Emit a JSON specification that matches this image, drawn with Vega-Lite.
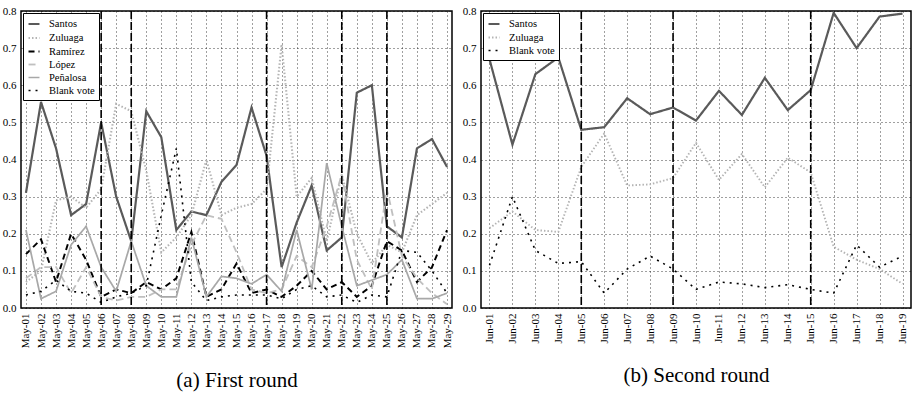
{
  "$schema": "https://vega.github.io/schema/vega-lite/v6.json",
  "background": "white",
  "padding": {"left": 1, "top": 4, "right": 0, "bottom": 0},
  "config": {
    "font": "Liberation Serif",
    "view": {"stroke": "#000", "strokeWidth": 1.5},
    "axis": {
      "labelFont": "Liberation Serif",
      "labelFontSize": 11,
      "labelColor": "#000",
      "domain": false,
      "ticks": false,
      "labelPadding": 5,
      "gridColor": "#000",
      "gridDash": [1, 3],
      "gridOpacity": 0.75,
      "gridWidth": 1,
      "titleFont": "Liberation Serif",
      "titleFontSize": 21,
      "titleFontWeight": "normal",
      "titleColor": "#000"
    },
    "legend": {
      "labelFont": "Liberation Serif",
      "labelFontSize": 10.5,
      "labelColor": "#000",
      "orient": "top-left",
      "offset": 2,
      "fillColor": "white",
      "strokeColor": "#000",
      "padding": 4,
      "symbolType": "stroke",
      "symbolSize": 120,
      "rowPadding": 1,
      "labelOffset": 8,
      "title": null
    }
  },
  "datasets": {
    "first": [
      {"date": "May-01", "candidate": "Santos", "share": 0.31},
      {"date": "May-02", "candidate": "Santos", "share": 0.555},
      {"date": "May-03", "candidate": "Santos", "share": 0.43},
      {"date": "May-04", "candidate": "Santos", "share": 0.25},
      {"date": "May-05", "candidate": "Santos", "share": 0.28},
      {"date": "May-06", "candidate": "Santos", "share": 0.50},
      {"date": "May-07", "candidate": "Santos", "share": 0.30},
      {"date": "May-08", "candidate": "Santos", "share": 0.18},
      {"date": "May-09", "candidate": "Santos", "share": 0.53},
      {"date": "May-10", "candidate": "Santos", "share": 0.46},
      {"date": "May-11", "candidate": "Santos", "share": 0.21},
      {"date": "May-12", "candidate": "Santos", "share": 0.26},
      {"date": "May-13", "candidate": "Santos", "share": 0.25},
      {"date": "May-14", "candidate": "Santos", "share": 0.34},
      {"date": "May-15", "candidate": "Santos", "share": 0.385},
      {"date": "May-16", "candidate": "Santos", "share": 0.54},
      {"date": "May-17", "candidate": "Santos", "share": 0.41},
      {"date": "May-18", "candidate": "Santos", "share": 0.11},
      {"date": "May-19", "candidate": "Santos", "share": 0.23},
      {"date": "May-20", "candidate": "Santos", "share": 0.33},
      {"date": "May-21", "candidate": "Santos", "share": 0.155},
      {"date": "May-22", "candidate": "Santos", "share": 0.19},
      {"date": "May-23", "candidate": "Santos", "share": 0.58},
      {"date": "May-24", "candidate": "Santos", "share": 0.60},
      {"date": "May-25", "candidate": "Santos", "share": 0.22},
      {"date": "May-26", "candidate": "Santos", "share": 0.19},
      {"date": "May-27", "candidate": "Santos", "share": 0.43},
      {"date": "May-28", "candidate": "Santos", "share": 0.455},
      {"date": "May-29", "candidate": "Santos", "share": 0.38},
      {"date": "May-01", "candidate": "Zuluaga", "share": 0.07},
      {"date": "May-02", "candidate": "Zuluaga", "share": 0.10},
      {"date": "May-03", "candidate": "Zuluaga", "share": 0.29},
      {"date": "May-04", "candidate": "Zuluaga", "share": 0.30},
      {"date": "May-05", "candidate": "Zuluaga", "share": 0.27},
      {"date": "May-06", "candidate": "Zuluaga", "share": 0.32},
      {"date": "May-07", "candidate": "Zuluaga", "share": 0.55},
      {"date": "May-08", "candidate": "Zuluaga", "share": 0.53},
      {"date": "May-09", "candidate": "Zuluaga", "share": 0.37},
      {"date": "May-10", "candidate": "Zuluaga", "share": 0.15},
      {"date": "May-11", "candidate": "Zuluaga", "share": 0.19},
      {"date": "May-12", "candidate": "Zuluaga", "share": 0.25},
      {"date": "May-13", "candidate": "Zuluaga", "share": 0.40},
      {"date": "May-14", "candidate": "Zuluaga", "share": 0.25},
      {"date": "May-15", "candidate": "Zuluaga", "share": 0.27},
      {"date": "May-16", "candidate": "Zuluaga", "share": 0.28},
      {"date": "May-17", "candidate": "Zuluaga", "share": 0.32},
      {"date": "May-18", "candidate": "Zuluaga", "share": 0.71},
      {"date": "May-19", "candidate": "Zuluaga", "share": 0.30},
      {"date": "May-20", "candidate": "Zuluaga", "share": 0.35},
      {"date": "May-21", "candidate": "Zuluaga", "share": 0.18},
      {"date": "May-22", "candidate": "Zuluaga", "share": 0.36},
      {"date": "May-23", "candidate": "Zuluaga", "share": 0.20},
      {"date": "May-24", "candidate": "Zuluaga", "share": 0.12},
      {"date": "May-25", "candidate": "Zuluaga", "share": 0.17},
      {"date": "May-26", "candidate": "Zuluaga", "share": 0.15},
      {"date": "May-27", "candidate": "Zuluaga", "share": 0.25},
      {"date": "May-28", "candidate": "Zuluaga", "share": 0.28},
      {"date": "May-29", "candidate": "Zuluaga", "share": 0.31},
      {"date": "May-01", "candidate": "Ramírez", "share": 0.145},
      {"date": "May-02", "candidate": "Ramírez", "share": 0.185},
      {"date": "May-03", "candidate": "Ramírez", "share": 0.07},
      {"date": "May-04", "candidate": "Ramírez", "share": 0.20},
      {"date": "May-05", "candidate": "Ramírez", "share": 0.13},
      {"date": "May-06", "candidate": "Ramírez", "share": 0.03},
      {"date": "May-07", "candidate": "Ramírez", "share": 0.05},
      {"date": "May-08", "candidate": "Ramírez", "share": 0.04},
      {"date": "May-09", "candidate": "Ramírez", "share": 0.07},
      {"date": "May-10", "candidate": "Ramírez", "share": 0.05},
      {"date": "May-11", "candidate": "Ramírez", "share": 0.08},
      {"date": "May-12", "candidate": "Ramírez", "share": 0.205},
      {"date": "May-13", "candidate": "Ramírez", "share": 0.03},
      {"date": "May-14", "candidate": "Ramírez", "share": 0.05},
      {"date": "May-15", "candidate": "Ramírez", "share": 0.12},
      {"date": "May-16", "candidate": "Ramírez", "share": 0.04},
      {"date": "May-17", "candidate": "Ramírez", "share": 0.05},
      {"date": "May-18", "candidate": "Ramírez", "share": 0.03},
      {"date": "May-19", "candidate": "Ramírez", "share": 0.06},
      {"date": "May-20", "candidate": "Ramírez", "share": 0.10},
      {"date": "May-21", "candidate": "Ramírez", "share": 0.05},
      {"date": "May-22", "candidate": "Ramírez", "share": 0.07},
      {"date": "May-23", "candidate": "Ramírez", "share": 0.03},
      {"date": "May-24", "candidate": "Ramírez", "share": 0.06},
      {"date": "May-25", "candidate": "Ramírez", "share": 0.18},
      {"date": "May-26", "candidate": "Ramírez", "share": 0.155},
      {"date": "May-27", "candidate": "Ramírez", "share": 0.07},
      {"date": "May-28", "candidate": "Ramírez", "share": 0.11},
      {"date": "May-29", "candidate": "Ramírez", "share": 0.21},
      {"date": "May-01", "candidate": "López", "share": 0.08},
      {"date": "May-02", "candidate": "López", "share": 0.11},
      {"date": "May-03", "candidate": "López", "share": 0.11},
      {"date": "May-04", "candidate": "López", "share": 0.04},
      {"date": "May-05", "candidate": "López", "share": 0.11},
      {"date": "May-06", "candidate": "López", "share": 0.03},
      {"date": "May-07", "candidate": "López", "share": 0.02},
      {"date": "May-08", "candidate": "López", "share": 0.03},
      {"date": "May-09", "candidate": "López", "share": 0.03},
      {"date": "May-10", "candidate": "López", "share": 0.05},
      {"date": "May-11", "candidate": "López", "share": 0.05},
      {"date": "May-12", "candidate": "López", "share": 0.17},
      {"date": "May-13", "candidate": "López", "share": 0.25},
      {"date": "May-14", "candidate": "López", "share": 0.24},
      {"date": "May-15", "candidate": "López", "share": 0.15},
      {"date": "May-16", "candidate": "López", "share": 0.05},
      {"date": "May-17", "candidate": "López", "share": 0.04},
      {"date": "May-18", "candidate": "López", "share": 0.05},
      {"date": "May-19", "candidate": "López", "share": 0.14},
      {"date": "May-20", "candidate": "López", "share": 0.11},
      {"date": "May-21", "candidate": "López", "share": 0.22},
      {"date": "May-22", "candidate": "López", "share": 0.36},
      {"date": "May-23", "candidate": "López", "share": 0.13},
      {"date": "May-24", "candidate": "López", "share": 0.05},
      {"date": "May-25", "candidate": "López", "share": 0.32},
      {"date": "May-26", "candidate": "López", "share": 0.14},
      {"date": "May-27", "candidate": "López", "share": 0.08},
      {"date": "May-28", "candidate": "López", "share": 0.04},
      {"date": "May-29", "candidate": "López", "share": 0.01},
      {"date": "May-01", "candidate": "Peñalosa", "share": 0.21},
      {"date": "May-02", "candidate": "Peñalosa", "share": 0.025},
      {"date": "May-03", "candidate": "Peñalosa", "share": 0.045},
      {"date": "May-04", "candidate": "Peñalosa", "share": 0.17},
      {"date": "May-05", "candidate": "Peñalosa", "share": 0.22},
      {"date": "May-06", "candidate": "Peñalosa", "share": 0.11},
      {"date": "May-07", "candidate": "Peñalosa", "share": 0.045},
      {"date": "May-08", "candidate": "Peñalosa", "share": 0.18},
      {"date": "May-09", "candidate": "Peñalosa", "share": 0.06},
      {"date": "May-10", "candidate": "Peñalosa", "share": 0.03},
      {"date": "May-11", "candidate": "Peñalosa", "share": 0.03},
      {"date": "May-12", "candidate": "Peñalosa", "share": 0.19},
      {"date": "May-13", "candidate": "Peñalosa", "share": 0.03},
      {"date": "May-14", "candidate": "Peñalosa", "share": 0.085},
      {"date": "May-15", "candidate": "Peñalosa", "share": 0.08},
      {"date": "May-16", "candidate": "Peñalosa", "share": 0.065},
      {"date": "May-17", "candidate": "Peñalosa", "share": 0.09},
      {"date": "May-18", "candidate": "Peñalosa", "share": 0.045},
      {"date": "May-19", "candidate": "Peñalosa", "share": 0.21},
      {"date": "May-20", "candidate": "Peñalosa", "share": 0.05},
      {"date": "May-21", "candidate": "Peñalosa", "share": 0.39},
      {"date": "May-22", "candidate": "Peñalosa", "share": 0.22},
      {"date": "May-23", "candidate": "Peñalosa", "share": 0.06},
      {"date": "May-24", "candidate": "Peñalosa", "share": 0.075},
      {"date": "May-25", "candidate": "Peñalosa", "share": 0.09},
      {"date": "May-26", "candidate": "Peñalosa", "share": 0.13},
      {"date": "May-27", "candidate": "Peñalosa", "share": 0.025},
      {"date": "May-28", "candidate": "Peñalosa", "share": 0.025},
      {"date": "May-29", "candidate": "Peñalosa", "share": 0.04},
      {"date": "May-01", "candidate": "Blank vote", "share": 0.035},
      {"date": "May-02", "candidate": "Blank vote", "share": 0.045},
      {"date": "May-03", "candidate": "Blank vote", "share": 0.075},
      {"date": "May-04", "candidate": "Blank vote", "share": 0.045},
      {"date": "May-05", "candidate": "Blank vote", "share": 0.04},
      {"date": "May-06", "candidate": "Blank vote", "share": 0.015},
      {"date": "May-07", "candidate": "Blank vote", "share": 0.03},
      {"date": "May-08", "candidate": "Blank vote", "share": 0.04},
      {"date": "May-09", "candidate": "Blank vote", "share": 0.06},
      {"date": "May-10", "candidate": "Blank vote", "share": 0.25},
      {"date": "May-11", "candidate": "Blank vote", "share": 0.43},
      {"date": "May-12", "candidate": "Blank vote", "share": 0.07},
      {"date": "May-13", "candidate": "Blank vote", "share": 0.02},
      {"date": "May-14", "candidate": "Blank vote", "share": 0.03},
      {"date": "May-15", "candidate": "Blank vote", "share": 0.035},
      {"date": "May-16", "candidate": "Blank vote", "share": 0.035},
      {"date": "May-17", "candidate": "Blank vote", "share": 0.035},
      {"date": "May-18", "candidate": "Blank vote", "share": 0.025},
      {"date": "May-19", "candidate": "Blank vote", "share": 0.05},
      {"date": "May-20", "candidate": "Blank vote", "share": 0.06},
      {"date": "May-21", "candidate": "Blank vote", "share": 0.03},
      {"date": "May-22", "candidate": "Blank vote", "share": 0.035},
      {"date": "May-23", "candidate": "Blank vote", "share": 0.015},
      {"date": "May-24", "candidate": "Blank vote", "share": 0.035},
      {"date": "May-25", "candidate": "Blank vote", "share": 0.03},
      {"date": "May-26", "candidate": "Blank vote", "share": 0.155},
      {"date": "May-27", "candidate": "Blank vote", "share": 0.15},
      {"date": "May-28", "candidate": "Blank vote", "share": 0.10},
      {"date": "May-29", "candidate": "Blank vote", "share": 0.04}
    ],
    "firstRules": [
      {"date": "May-06"}, {"date": "May-08"}, {"date": "May-17"}, {"date": "May-22"}, {"date": "May-25"}
    ],
    "second": [
      {"date": "Jun-01", "candidate": "Santos", "share": 0.67},
      {"date": "Jun-02", "candidate": "Santos", "share": 0.44},
      {"date": "Jun-03", "candidate": "Santos", "share": 0.63},
      {"date": "Jun-04", "candidate": "Santos", "share": 0.675},
      {"date": "Jun-05", "candidate": "Santos", "share": 0.48},
      {"date": "Jun-06", "candidate": "Santos", "share": 0.487},
      {"date": "Jun-07", "candidate": "Santos", "share": 0.565},
      {"date": "Jun-08", "candidate": "Santos", "share": 0.522},
      {"date": "Jun-09", "candidate": "Santos", "share": 0.54},
      {"date": "Jun-10", "candidate": "Santos", "share": 0.505},
      {"date": "Jun-11", "candidate": "Santos", "share": 0.585},
      {"date": "Jun-12", "candidate": "Santos", "share": 0.52},
      {"date": "Jun-13", "candidate": "Santos", "share": 0.62},
      {"date": "Jun-14", "candidate": "Santos", "share": 0.533},
      {"date": "Jun-15", "candidate": "Santos", "share": 0.587},
      {"date": "Jun-16", "candidate": "Santos", "share": 0.795},
      {"date": "Jun-17", "candidate": "Santos", "share": 0.70},
      {"date": "Jun-18", "candidate": "Santos", "share": 0.785},
      {"date": "Jun-19", "candidate": "Santos", "share": 0.793},
      {"date": "Jun-01", "candidate": "Zuluaga", "share": 0.215},
      {"date": "Jun-02", "candidate": "Zuluaga", "share": 0.26},
      {"date": "Jun-03", "candidate": "Zuluaga", "share": 0.21},
      {"date": "Jun-04", "candidate": "Zuluaga", "share": 0.205},
      {"date": "Jun-05", "candidate": "Zuluaga", "share": 0.38},
      {"date": "Jun-06", "candidate": "Zuluaga", "share": 0.47},
      {"date": "Jun-07", "candidate": "Zuluaga", "share": 0.33},
      {"date": "Jun-08", "candidate": "Zuluaga", "share": 0.333},
      {"date": "Jun-09", "candidate": "Zuluaga", "share": 0.35},
      {"date": "Jun-10", "candidate": "Zuluaga", "share": 0.445},
      {"date": "Jun-11", "candidate": "Zuluaga", "share": 0.345},
      {"date": "Jun-12", "candidate": "Zuluaga", "share": 0.415},
      {"date": "Jun-13", "candidate": "Zuluaga", "share": 0.325},
      {"date": "Jun-14", "candidate": "Zuluaga", "share": 0.405},
      {"date": "Jun-15", "candidate": "Zuluaga", "share": 0.365},
      {"date": "Jun-16", "candidate": "Zuluaga", "share": 0.165},
      {"date": "Jun-17", "candidate": "Zuluaga", "share": 0.13},
      {"date": "Jun-18", "candidate": "Zuluaga", "share": 0.105},
      {"date": "Jun-19", "candidate": "Zuluaga", "share": 0.065},
      {"date": "Jun-01", "candidate": "Blank vote", "share": 0.115},
      {"date": "Jun-02", "candidate": "Blank vote", "share": 0.30},
      {"date": "Jun-03", "candidate": "Blank vote", "share": 0.155},
      {"date": "Jun-04", "candidate": "Blank vote", "share": 0.12},
      {"date": "Jun-05", "candidate": "Blank vote", "share": 0.125},
      {"date": "Jun-06", "candidate": "Blank vote", "share": 0.04},
      {"date": "Jun-07", "candidate": "Blank vote", "share": 0.105},
      {"date": "Jun-08", "candidate": "Blank vote", "share": 0.14},
      {"date": "Jun-09", "candidate": "Blank vote", "share": 0.105},
      {"date": "Jun-10", "candidate": "Blank vote", "share": 0.05},
      {"date": "Jun-11", "candidate": "Blank vote", "share": 0.07},
      {"date": "Jun-12", "candidate": "Blank vote", "share": 0.065},
      {"date": "Jun-13", "candidate": "Blank vote", "share": 0.055},
      {"date": "Jun-14", "candidate": "Blank vote", "share": 0.063},
      {"date": "Jun-15", "candidate": "Blank vote", "share": 0.05},
      {"date": "Jun-16", "candidate": "Blank vote", "share": 0.04},
      {"date": "Jun-17", "candidate": "Blank vote", "share": 0.17},
      {"date": "Jun-18", "candidate": "Blank vote", "share": 0.11},
      {"date": "Jun-19", "candidate": "Blank vote", "share": 0.14}
    ],
    "secondRules": [
      {"date": "Jun-05"}, {"date": "Jun-09"}, {"date": "Jun-15"}
    ]
  },
  "spacing": 8,
  "resolve": {
    "scale": {"x": "independent", "y": "independent", "color": "independent", "strokeDash": "independent", "strokeWidth": "independent"},
    "legend": {"color": "independent", "strokeDash": "independent", "strokeWidth": "independent"}
  },
  "hconcat": [
    {
      "width": 431,
      "height": 297,
      "layer": [
        {
          "data": {"name": "first"},
          "mark": {"type": "line", "clip": true},
          "encoding": {
            "x": {"field": "date", "type": "ordinal", "scale": {"type": "point", "padding": 0.33},
              "axis": {"labelAngle": -90, "grid": true, "title": "(a) First round", "titlePadding": 22}},
            "y": {"field": "share", "type": "quantitative", "scale": {"domain": [0, 0.8], "nice": false},
              "axis": {"values": [0, 0.1, 0.2, 0.3, 0.4, 0.5, 0.6, 0.7, 0.8], "format": ".1f", "grid": true, "title": null}},
            "color": {"field": "candidate", "type": "nominal",
              "scale": {"domain": ["Santos", "Zuluaga", "Ramírez", "López", "Peñalosa", "Blank vote"],
                "range": ["#5a5a5a", "#b4b4b4", "#000000", "#c0c0c0", "#a8a8a8", "#000000"]},
              "legend": {"labelFont": "Liberation Serif", "labelFontSize": 10.5}},
            "strokeDash": {"field": "candidate", "type": "nominal",
              "scale": {"domain": ["Santos", "Zuluaga", "Ramírez", "López", "Peñalosa", "Blank vote"],
                "range": [[1, 0], [1.5, 2], [6, 4], [7, 4], [1, 0], [2, 5]]},
              "legend": {"labelFont": "Liberation Serif", "labelFontSize": 10.5}},
            "strokeWidth": {"field": "candidate", "type": "nominal",
              "scale": {"domain": ["Santos", "Zuluaga", "Ramírez", "López", "Peñalosa", "Blank vote"],
                "range": [2.2, 1.6, 2.6, 2.2, 2.2, 2.6]},
              "legend": {"labelFont": "Liberation Serif", "labelFontSize": 10.5}}
          }
        },
        {
          "data": {"name": "firstRules"},
          "mark": {"type": "rule", "color": "#000", "strokeWidth": 1.6, "strokeDash": [8, 3]},
          "encoding": {"x": {"field": "date", "type": "ordinal"}}
        }
      ]
    },
    {
      "width": 430,
      "height": 297,
      "layer": [
        {
          "data": {"name": "second"},
          "mark": {"type": "line", "clip": true},
          "encoding": {
            "x": {"field": "date", "type": "ordinal", "scale": {"type": "point", "padding": 0.37},
              "axis": {"labelAngle": -90, "grid": true, "title": "(b) Second round", "titlePadding": 22}},
            "y": {"field": "share", "type": "quantitative", "scale": {"domain": [0, 0.8], "nice": false},
              "axis": {"values": [0, 0.1, 0.2, 0.3, 0.4, 0.5, 0.6, 0.7, 0.8], "format": ".1f", "grid": true, "title": null}},
            "color": {"field": "candidate", "type": "nominal",
              "scale": {"domain": ["Santos", "Zuluaga", "Blank vote"],
                "range": ["#5a5a5a", "#b4b4b4", "#000000"]},
              "legend": {"labelFont": "Liberation Serif", "labelFontSize": 10.5}},
            "strokeDash": {"field": "candidate", "type": "nominal",
              "scale": {"domain": ["Santos", "Zuluaga", "Blank vote"],
                "range": [[1, 0], [1.5, 2], [2, 5]]},
              "legend": {"labelFont": "Liberation Serif", "labelFontSize": 10.5}},
            "strokeWidth": {"field": "candidate", "type": "nominal",
              "scale": {"domain": ["Santos", "Zuluaga", "Blank vote"],
                "range": [2.2, 1.6, 2.6]},
              "legend": {"labelFont": "Liberation Serif", "labelFontSize": 10.5}}
          }
        },
        {
          "data": {"name": "secondRules"},
          "mark": {"type": "rule", "color": "#000", "strokeWidth": 1.6, "strokeDash": [8, 3]},
          "encoding": {"x": {"field": "date", "type": "ordinal"}}
        }
      ]
    }
  ]
}
